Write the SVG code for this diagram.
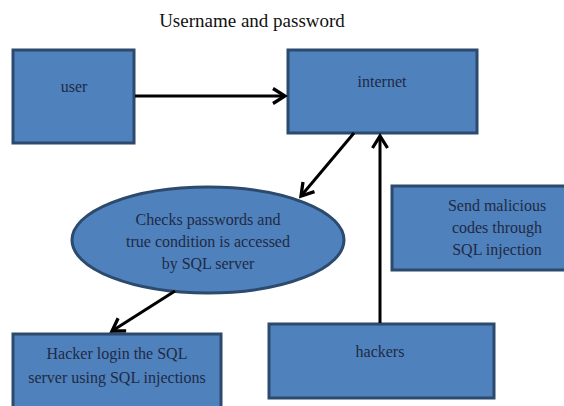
<svg xmlns="http://www.w3.org/2000/svg" width="564" height="406" viewBox="0 0 564 406">
<style>
.box{fill:#4f81bd;stroke:#2b4a6e;stroke-width:3}
.t{font-size:16px;fill:#1f2a44;text-anchor:middle}
.c{stroke:#000;stroke-width:3;fill:none}
</style>
<defs>
<marker id="ah" viewBox="0 0 12 12" refX="10" refY="6" markerWidth="6" markerHeight="6" orient="auto" markerUnits="strokeWidth">
<path d="M2,1 L10,6 L2,11" fill="none" stroke="#000" stroke-width="2.2"/>
</marker>
</defs>
<rect width="564" height="406" fill="#fff"/>
<g font-family="Liberation Serif, Times New Roman, serif">
<text x="252" y="27" font-size="19" fill="#111" text-anchor="middle">Username and password</text>
<g id="user"><rect class="box" x="13" y="50" width="121" height="93"/><text class="t" x="74" y="92">user</text></g>
<g id="internet"><rect class="box" x="288" y="50" width="189" height="83"/><text class="t" x="382" y="87">internet</text></g>
<g id="check"><ellipse class="box" cx="208" cy="240" rx="136" ry="53"/><text class="t" x="208" y="225">Checks passwords and</text><text class="t" x="208" y="247">true condition is accessed</text><text class="t" x="208" y="269">by SQL server</text></g>
<g id="send"><rect class="box" x="392" y="186" width="175" height="84"/><text class="t" x="497" y="211">Send malicious</text><text class="t" x="497" y="233">codes through</text><text class="t" x="497" y="255">SQL injection</text></g>
<g id="hackers"><rect class="box" x="269" y="324" width="225" height="74"/><text class="t" x="380" y="357">hackers</text></g>
<g id="login"><rect class="box" x="13" y="334" width="208" height="80"/><text class="t" x="117" y="359">Hacker login the SQL</text><text class="t" x="117" y="383">server using SQL injections</text></g>
</g>
<g id="connectors">
<line class="c" x1="135" y1="96" x2="285" y2="96" marker-end="url(#ah)"/>
<line class="c" x1="354" y1="133" x2="301" y2="196" marker-end="url(#ah)"/>
<line class="c" x1="380" y1="323" x2="380" y2="136" marker-end="url(#ah)"/>
<line class="c" x1="175" y1="291" x2="112" y2="331" marker-end="url(#ah)"/>
</g>
</svg>
